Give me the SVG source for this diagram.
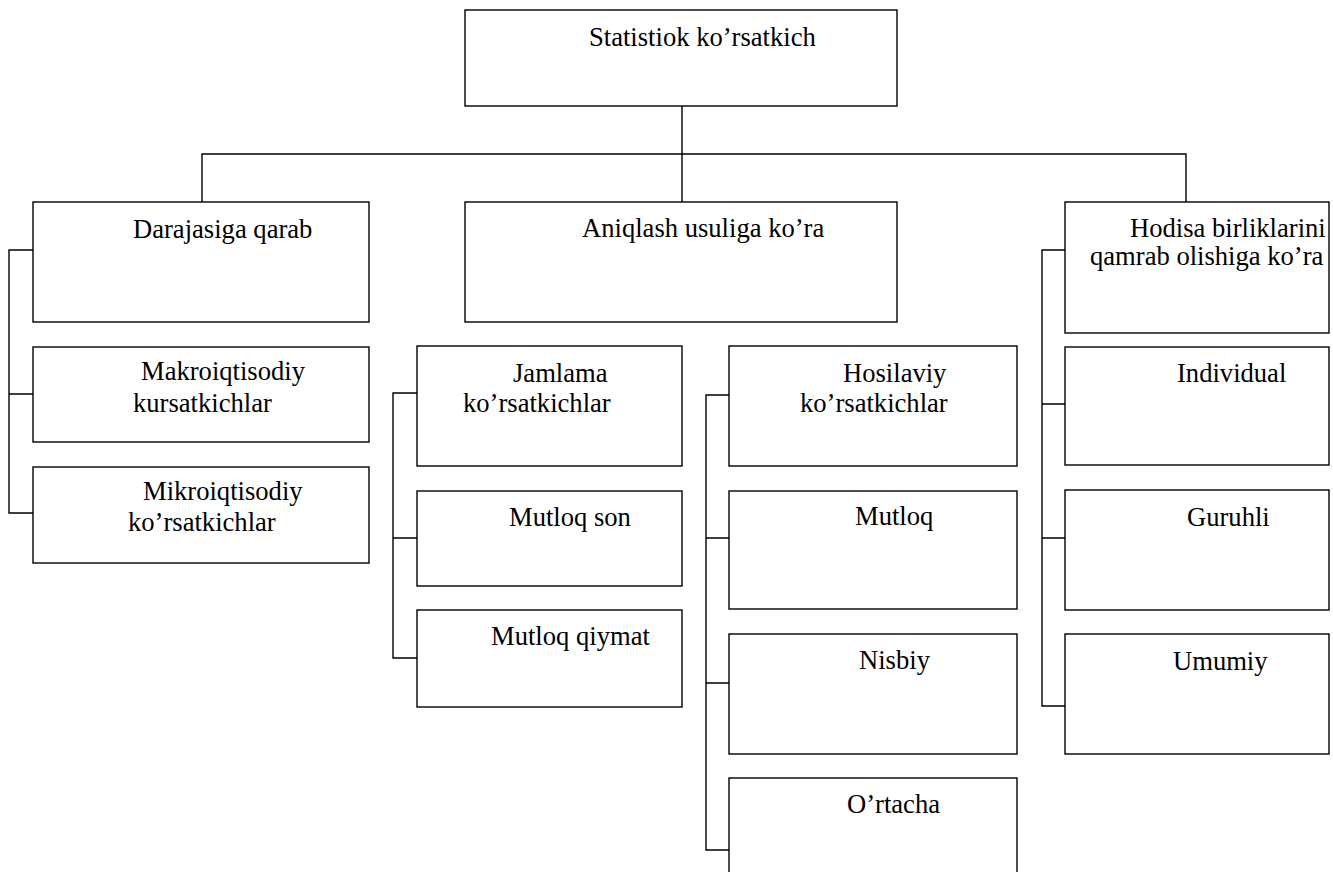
<svg xmlns="http://www.w3.org/2000/svg" width="1333" height="872" viewBox="0 0 1333 872">
<style>
.box{fill:#fff;stroke:#000;stroke-width:1.4}
.ln{fill:none;stroke:#000;stroke-width:1.4}
</style>
<rect width="1333" height="872" fill="#fff"/>
<g id="connectors">
<path class="ln" d="M682 106V202"/>
<path class="ln" d="M202 202V154H1186V202"/>
<path class="ln" d="M33 250H9V513H33M9 394H33"/>
<path class="ln" d="M417 393H393V658H417M393 538H417"/>
<path class="ln" d="M729 395H706V850H729M706 538H729M706 683H729"/>
<path class="ln" d="M1065 250H1042V706H1065M1042 404H1065M1042 538H1065"/>
</g>
<g font-size="26.6" fill="#000">
<g id="n_root"><rect class="box" x="465" y="10" width="432" height="96"/><text font-family="Liberation Serif, Times New Roman, serif" x="589" y="46">Statistiok ko’rsatkich</text></g>
<g id="n_daraja"><rect class="box" x="33" y="202" width="336" height="120"/><text font-family="Liberation Serif, Times New Roman, serif" x="133" y="238">Darajasiga qarab</text></g>
<g id="n_aniqlash"><rect class="box" x="465" y="202" width="432" height="120"/><text font-family="Liberation Serif, Times New Roman, serif" x="582" y="237">Aniqlash usuliga ko’ra</text></g>
<g id="n_hodisa"><rect class="box" x="1065" y="202" width="264" height="131"/><text font-family="Liberation Serif, Times New Roman, serif" x="1130" y="237">Hodisa birliklarini</text><text font-family="Liberation Serif, Times New Roman, serif" x="1090" y="265">qamrab olishiga ko’ra</text></g>
<g id="n_makro"><rect class="box" x="33" y="347" width="336" height="95"/><text font-family="Liberation Serif, Times New Roman, serif" x="141" y="380">Makroiqtisodiy</text><text font-family="Liberation Serif, Times New Roman, serif" x="133" y="412">kursatkichlar</text></g>
<g id="n_mikro"><rect class="box" x="33" y="467" width="336" height="96"/><text font-family="Liberation Serif, Times New Roman, serif" x="143" y="500">Mikroiqtisodiy</text><text font-family="Liberation Serif, Times New Roman, serif" x="128" y="531">ko’rsatkichlar</text></g>
<g id="n_jamlama"><rect class="box" x="417" y="346" width="265" height="120"/><text font-family="Liberation Serif, Times New Roman, serif" x="513" y="382">Jamlama</text><text font-family="Liberation Serif, Times New Roman, serif" x="463" y="412">ko’rsatkichlar</text></g>
<g id="n_mutloq_son"><rect class="box" x="417" y="491" width="265" height="95"/><text font-family="Liberation Serif, Times New Roman, serif" x="509" y="526">Mutloq son</text></g>
<g id="n_mutloq_qiymat"><rect class="box" x="417" y="610" width="265" height="97"/><text font-family="Liberation Serif, Times New Roman, serif" x="491" y="645">Mutloq qiymat</text></g>
<g id="n_hosilaviy"><rect class="box" x="729" y="346" width="288" height="120"/><text font-family="Liberation Serif, Times New Roman, serif" x="843" y="382">Hosilaviy</text><text font-family="Liberation Serif, Times New Roman, serif" x="800" y="412">ko’rsatkichlar</text></g>
<g id="n_mutloq"><rect class="box" x="729" y="491" width="288" height="118"/><text font-family="Liberation Serif, Times New Roman, serif" x="855" y="525">Mutloq</text></g>
<g id="n_nisbiy"><rect class="box" x="729" y="634" width="288" height="120"/><text font-family="Liberation Serif, Times New Roman, serif" x="859" y="669">Nisbiy</text></g>
<g id="n_ortacha"><rect class="box" x="729" y="778" width="288" height="130"/><text font-family="Liberation Serif, Times New Roman, serif" x="847" y="813">O’rtacha</text></g>
<g id="n_individual"><rect class="box" x="1065" y="347" width="264" height="118"/><text font-family="Liberation Serif, Times New Roman, serif" x="1177" y="382">Individual</text></g>
<g id="n_guruhli"><rect class="box" x="1065" y="490" width="264" height="120"/><text font-family="Liberation Serif, Times New Roman, serif" x="1187" y="526">Guruhli</text></g>
<g id="n_umumiy"><rect class="box" x="1065" y="634" width="264" height="120"/><text font-family="Liberation Serif, Times New Roman, serif" x="1173" y="670">Umumiy</text></g>
</g>
</svg>
